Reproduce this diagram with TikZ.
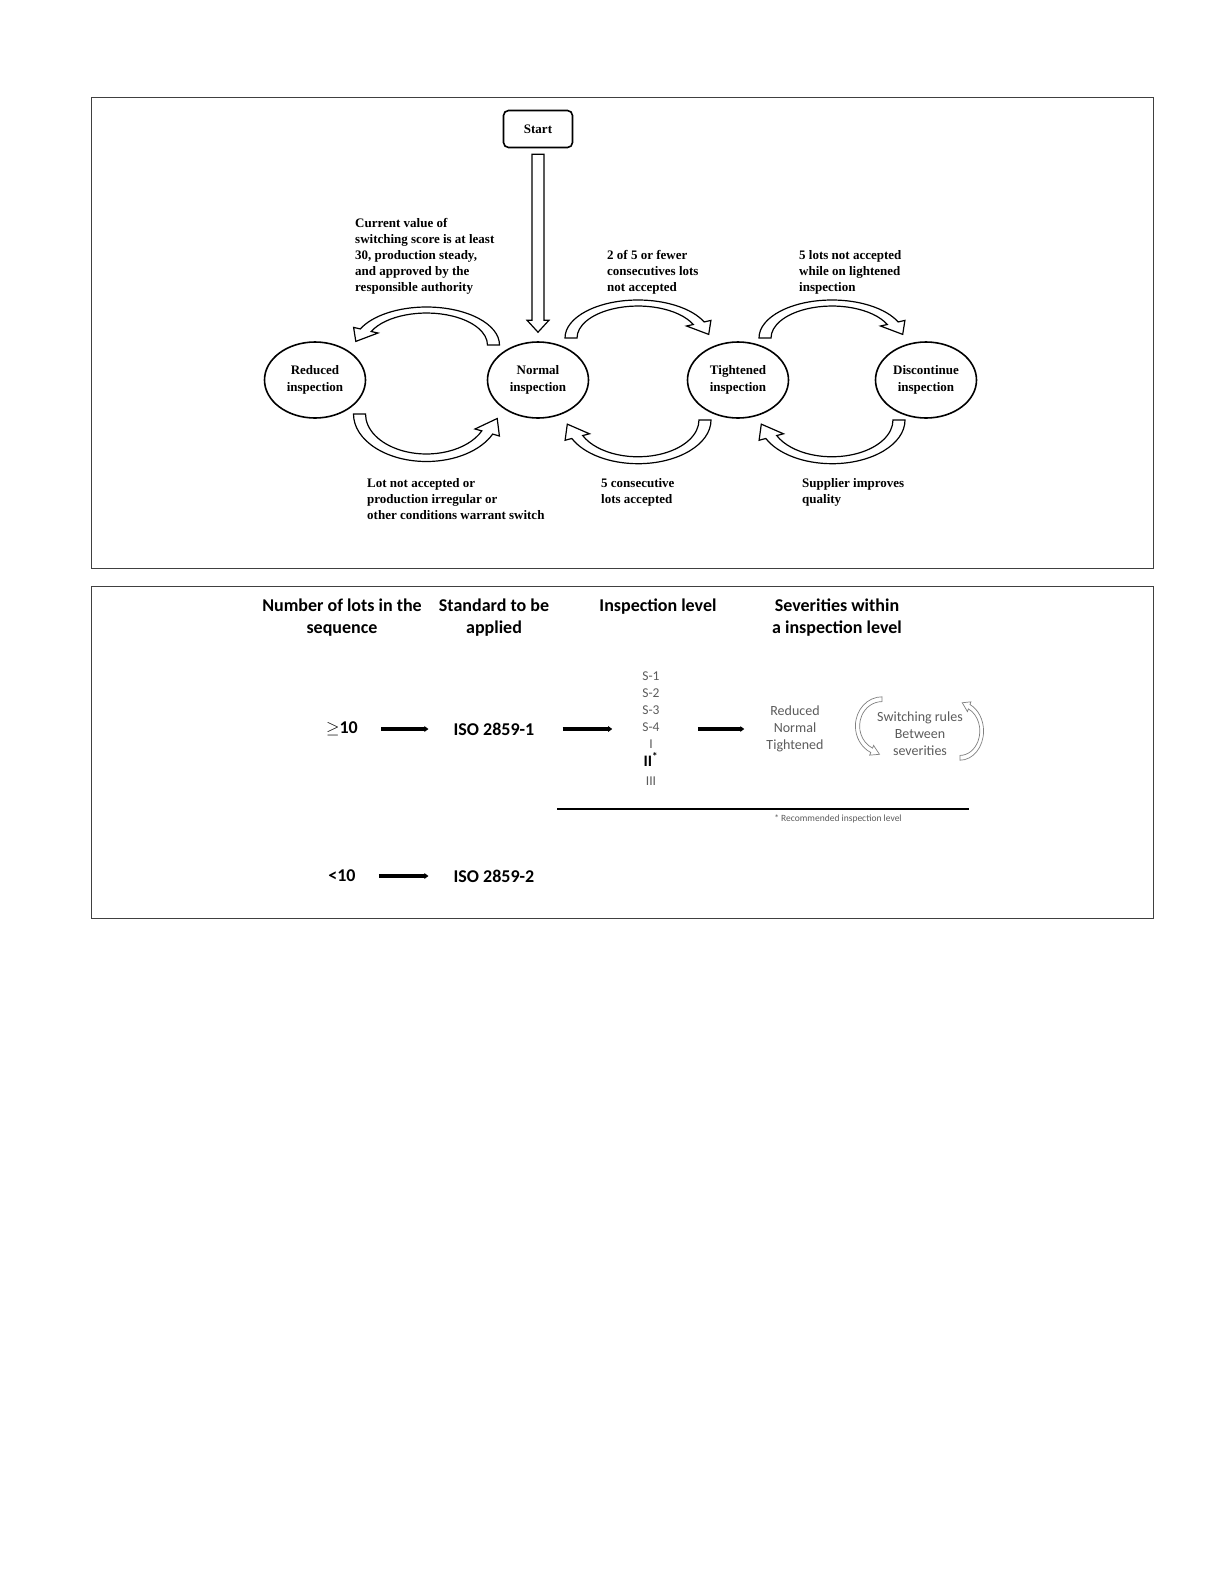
\documentclass[tikz,border=0pt]{standalone}
\usepackage{fontspec}
\setmainfont{Liberation Serif}
\setsansfont{Carlito}
\usetikzlibrary{positioning,shapes.geometric,arrows.meta,calc}
\definecolor{softgray}{gray}{0.36}
\definecolor{linegray}{gray}{0.5}
\tikzset{
    state/.style={shape=ellipse,draw=black,line width=1.6pt,minimum width=101pt,minimum height=76pt,inner sep=0pt,align=center,font=\bfseries\fontsize{13}{16.5}\selectfont},
    start box/.style={draw=black,line width=1.6pt,rounded corners=5pt,minimum width=69pt,minimum height=37pt,font=\bfseries\fontsize{13}{16}\selectfont},
    rule text/.style={anchor=north west,inner sep=0pt,align=left,font=\bfseries\fontsize{13}{16}\selectfont},
    bent arrow/.style={draw=black,line width=1.2pt,fill=white,line join=miter},
    head/.style={align=center,inner sep=0pt,font=\sffamily\bfseries\fontsize{18}{22}\selectfont},
    cell/.style={inner sep=0pt,font=\sffamily\bfseries\fontsize{18}{22}\selectfont},
    level list/.style={align=center,inner sep=0pt,text=softgray,font=\sffamily\fontsize{13.5}{17}\selectfont},
    link/.style={line width=3.6pt,-{Triangle[length=4pt,width=5.5pt]}},
    frame/.style={draw=black!75,line width=0.9pt}
}
% hollow bent arrow: tail on the left, head on the right
\newcommand{\bentarrow}[1]{%
  \begin{scope}[#1]
    \draw[bent arrow] (-73,0) arc[start angle=180,end angle=25,x radius=73,y radius=38]
      -- (72.9,17.6) -- (70.7,3.6) -- (48.5,12.0) -- (55.3,13.5)
      arc[start angle=25,end angle=180,x radius=61,y radius=32] -- cycle;
  \end{scope}}

\begin{document}
\begin{tikzpicture}[x=1pt,y=-1pt]
    \fill[white] (0,0) rectangle (1212,1575);
    \draw[frame] (91,97) rectangle (1153,568);
    \draw[frame] (91,586) rectangle (1153,918);

    % switching scheme
    \node[start box] (start) at (538,129) {Start};
    \node[state] (reduced) at (315,380) {Reduced\\inspection};
    \node[state] (normal) at (538,380) {Normal\\inspection};
    \node[state] (tightened) at (738,380) {Tightened\\inspection};
    \node[state] (discontinue) at (926,380) {Discontinue\\inspection};

    \draw[bent arrow] ($(start.south)+(-6,6)$) -- ($(normal.north)+(-6,-21)$) -- ++(-5,0)
        -- ($(normal.north)+(0,-9)$) -- ($(normal.north)+(11,-21)$) -- ++(-5,0)
        -- ($(start.south)+(6,6)$) -- cycle;

    \bentarrow{shift={($(reduced)!0.5!(normal)+(0,-35)$)},xscale=-1,yscale=-1}
    \bentarrow{shift={($(normal)!0.5!(tightened)+(0,-42)$)},yscale=-1}
    \bentarrow{shift={($(tightened)!0.5!(discontinue)+(0,-42)$)},yscale=-1}
    \bentarrow{shift={($(reduced)!0.5!(normal)+(0,34)$)},yscale=1.25}
    \bentarrow{shift={($(normal)!0.5!(tightened)+(0,40)$)},xscale=-1,yscale=1.15}
    \bentarrow{shift={($(tightened)!0.5!(discontinue)+(0,40)$)},xscale=-1,yscale=1.15}

    \node[rule text] (toreduced) at (355,218) {Current value of\\switching score is at least\\30, production steady,\\and approved by the\\responsible authority};
    \node[rule text] (totightened) at (607,250) {2 of 5 or fewer\\consecutives lots\\not accepted};
    \node[rule text] (todiscontinue) at (799,250) {5 lots not accepted\\while on lightened\\inspection};
    \node[rule text] (fromreduced) at (367,478) {Lot not accepted or\\production irregular or\\other conditions warrant switch};
    \node[rule text] (fromtightened) at (601,478) {5 consecutive\\lots accepted};
    \node[rule text] (fromdiscontinue) at (802,478) {Supplier improves\\quality};

    % standard selection
    \node[head] (hlots) at (342,618) {Number of lots in the\\sequence};
    \node[head] (hstd) at (494,618) {Standard to be\\applied};
    \node[head] (hlevel) at (658,607) {Inspection level};
    \node[head] (hsev) at (837,618) {Severities within\\a inspection level};

    \node[cell] (many) at (342,729) {$\geq$10};
    \node[cell] (iso1) at (494,729) {ISO 2859-1};
    \node[level list] (levels) at (651,729) {S-1\\S-2\\S-3\\S-4\\I\\[1pt]{\color{black}\bfseries\fontsize{16}{17}\selectfont II\textsuperscript{*}}\\[2pt]III};
    \node[level list,font=\sffamily\fontsize{14}{17}\selectfont] (sev) at (795,729) {Reduced\\Normal\\Tightened};
    \node[level list,font=\sffamily\fontsize{14}{17}\selectfont] (switch) at (920,734) {Switching rules\\Between\\severities};

    \node[cell] (few) at (342,876) {<10};
    \node[cell] (iso2) at (494,876) {ISO 2859-2};

    \draw[link,shorten <=23pt,shorten >=25pt] (many) -- (iso1);
    \draw[link,shorten <=28pt,shorten >=30pt] (iso1) -- (levels);
    \draw[link,shorten <=38pt,shorten >=22pt] (levels) -- (sev);
    \draw[link,shorten <=23pt,shorten >=25pt] (few) -- (iso2);

    \bentarrow{shift={(882,726)},rotate=-90,xscale=0.4,yscale=0.7,bent arrow/.append style={draw=linegray,line width=0.7pt}}
    \bentarrow{shift={(960,731)},rotate=90,xscale=0.4,yscale=0.62,bent arrow/.append style={draw=linegray,line width=0.7pt}}

    \coordinate (ruleleft) at (557,809);
    \coordinate (ruleright) at (969,809);
    \draw[line width=1.6pt] (ruleleft) -- (ruleright);
    \node[inner sep=0pt,text=softgray,font=\sffamily\fontsize{9.5}{11}\selectfont] (note) at (838,819) {* Recommended inspection level};
\end{tikzpicture}
\end{document}
